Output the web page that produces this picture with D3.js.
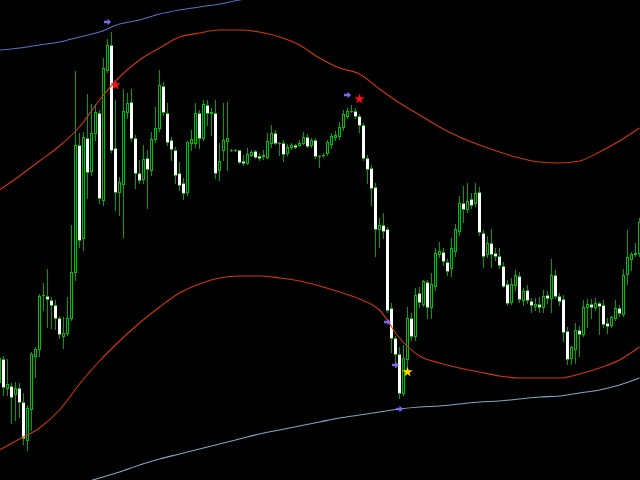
<!DOCTYPE html>
<html><head><meta charset="utf-8">
<script src="https://cdn.jsdelivr.net/npm/d3@7"></script>
<style>html,body{margin:0;padding:0;background:#000;overflow:hidden}svg{display:block}</style>
</head><body><svg id="chart" width="640" height="480"></svg>
<script>
// candle index of the first bar (bar index 0 sits at the left edge)
const firstBar = -1;
const open = [
1.098,1.121,1.092,1.094,1.086,1.092,1.078,1.040,1.071,1.124,1.131,
1.185,1.184,1.180,1.175,1.162,1.144,1.147,1.162,1.208,1.335,
1.242,1.342,1.309,1.347,1.367,1.280,1.410,1.435,1.332,1.288,
1.296,1.368,1.378,1.342,1.307,1.301,1.322,1.310,1.341,1.352,
1.394,1.367,1.340,1.330,1.307,1.297,1.288,1.337,1.337,1.367,
1.342,1.375,1.368,1.367,1.310,1.330,1.339,1.330,1.330,1.330,
1.319,1.317,1.325,1.329,1.324,1.324,1.323,1.337,1.347,1.337,
1.337,1.327,1.333,1.335,1.335,1.337,1.343,1.335,1.340,1.324,
1.325,1.327,1.336,1.343,1.344,1.353,1.364,1.369,1.369,1.364,
1.355,1.322,1.312,1.293,1.251,1.255,1.251,1.172,1.142,1.126,
1.087,1.121,1.162,1.144,1.187,1.176,1.198,1.173,1.194,1.226,
1.228,1.218,1.212,1.229,1.249,1.277,1.271,1.281,1.277,1.288,
1.247,1.226,1.237,1.227,1.224,1.214,1.196,1.178,1.195,1.204,
1.180,1.190,1.179,1.174,1.176,1.173,1.185,1.182,1.205,1.184,
1.181,1.149,1.122,1.131,1.150,1.146,1.173,1.176,1.173,1.177,
1.175,1.157,1.155,1.162,1.172,1.166,1.206,1.221,1.226,1.227];
const close = [
1.122,1.093,1.096,1.083,1.092,1.078,1.042,1.072,1.126,1.131,1.184,
1.185,1.181,1.175,1.162,1.146,1.147,1.162,1.208,1.335,1.240,
1.343,1.308,1.347,1.368,1.282,1.412,1.435,1.330,1.288,1.298,
1.369,1.377,1.342,1.307,1.300,1.321,1.311,1.341,1.352,1.395,
1.368,1.338,1.331,1.305,1.295,1.287,1.338,1.341,1.367,1.342,
1.376,1.367,1.367,1.307,1.319,1.340,1.342,1.330,1.330,1.318,
1.317,1.326,1.328,1.323,1.322,1.325,1.339,1.347,1.337,1.337,
1.326,1.333,1.335,1.333,1.337,1.343,1.334,1.340,1.324,1.324,
1.325,1.338,1.344,1.345,1.353,1.366,1.369,1.369,1.364,1.355,
1.322,1.311,1.292,1.251,1.255,1.249,1.170,1.142,1.126,1.087,
1.122,1.162,1.144,1.185,1.178,1.199,1.173,1.196,1.227,1.229,
1.219,1.209,1.232,1.251,1.277,1.271,1.279,1.275,1.287,1.248,
1.224,1.237,1.226,1.224,1.215,1.194,1.177,1.196,1.205,1.181,
1.189,1.180,1.175,1.176,1.173,1.184,1.182,1.205,1.184,1.179,
1.148,1.121,1.133,1.150,1.146,1.173,1.176,1.173,1.177,1.174,
1.156,1.154,1.163,1.172,1.167,1.205,1.223,1.226,1.227,1.258];
const high = [
1.128,1.124,1.121,1.097,1.098,1.097,1.087,1.075,1.128,1.133,1.186,
1.197,1.211,1.183,1.180,1.164,1.163,1.183,1.255,1.409,1.347,
1.348,1.386,1.376,1.376,1.370,1.422,1.441,1.448,1.380,1.303,
1.391,1.387,1.391,1.345,1.320,1.335,1.330,1.348,1.373,1.410,
1.398,1.377,1.343,1.333,1.318,1.302,1.339,1.350,1.377,1.370,
1.380,1.380,1.372,1.380,1.337,1.377,1.378,1.331,1.331,1.330,
1.325,1.332,1.330,1.330,1.327,1.330,1.347,1.355,1.350,1.338,
1.340,1.336,1.337,1.336,1.340,1.348,1.346,1.342,1.342,1.325,
1.327,1.340,1.347,1.349,1.358,1.370,1.372,1.375,1.372,1.366,
1.357,1.325,1.315,1.297,1.262,1.267,1.253,1.177,1.144,1.133,
1.135,1.173,1.167,1.192,1.193,1.200,1.200,1.207,1.232,1.238,
1.232,1.221,1.242,1.256,1.284,1.294,1.297,1.287,1.297,1.293,
1.250,1.244,1.251,1.232,1.232,1.218,1.200,1.202,1.210,1.208,
1.192,1.195,1.182,1.182,1.183,1.190,1.189,1.221,1.210,1.187,
1.185,1.153,1.134,1.157,1.154,1.180,1.181,1.181,1.182,1.178,
1.180,1.162,1.164,1.180,1.175,1.211,1.250,1.228,1.237,1.262];
const low = [
1.088,1.085,1.085,1.057,1.060,1.063,1.036,1.030,1.050,1.103,1.124,
1.170,1.153,1.152,1.151,1.142,1.132,1.145,1.160,1.200,1.233,
1.230,1.282,1.305,1.340,1.277,1.275,1.408,1.328,1.270,1.265,
1.243,1.362,1.339,1.292,1.297,1.297,1.272,1.305,1.338,1.349,
1.365,1.335,1.320,1.297,1.290,1.281,1.285,1.330,1.333,1.332,
1.340,1.355,1.345,1.302,1.300,1.320,1.310,1.329,1.329,1.317,
1.315,1.316,1.324,1.322,1.320,1.321,1.322,1.333,1.336,1.325,
1.319,1.325,1.331,1.332,1.334,1.336,1.333,1.333,1.322,1.313,
1.323,1.325,1.332,1.340,1.341,1.350,1.362,1.368,1.362,1.348,
1.320,1.297,1.275,1.224,1.233,1.242,1.168,1.128,1.113,1.082,
1.085,1.110,1.140,1.140,1.173,1.174,1.162,1.162,1.190,1.223,
1.215,1.205,1.204,1.224,1.245,1.258,1.268,1.272,1.274,1.245,
1.213,1.223,1.213,1.220,1.212,1.193,1.175,1.176,1.190,1.178,
1.175,1.177,1.168,1.170,1.168,1.168,1.177,1.168,1.182,1.175,
1.139,1.116,1.116,1.117,1.124,1.144,1.153,1.162,1.170,1.146,
1.153,1.147,1.153,1.160,1.164,1.164,1.196,1.210,1.224,1.224];

// envelope bands, sampled every 5 bars starting at the given bar index
const bandStep = 5;
const upperOuterStart = -1;
const upperOuter = [1.430,1.432,1.435,1.438,1.443,1.448,1.456,1.460,1.466,1.470,1.473,1.476,1.480,1.483,1.486];
const upperInnerStart = -1;
const upperInner = [1.290,1.304,1.319,1.334,1.353,1.380,1.403,1.420,1.432,1.443,1.447,1.450,1.450,1.448,1.443,1.435,1.422,1.412,1.406,1.391,1.377,1.365,1.353,1.343,1.335,1.328,1.322,1.318,1.317,1.319,1.328,1.339,1.352];
const lowerInnerStart = -1;
const lowerInner = [1.030,1.041,1.052,1.070,1.096,1.119,1.139,1.157,1.173,1.187,1.196,1.202,1.204,1.204,1.202,1.199,1.194,1.188,1.181,1.170,1.142,1.124,1.117,1.112,1.108,1.104,1.102,1.102,1.102,1.106,1.112,1.120,1.133];
const lowerOuterStart = 9;
const lowerOuter = [0.984,0.990,0.996,1.002,1.008,1.015,1.021,1.026,1.031,1.036,1.041,1.046,1.050,1.054,1.058,1.062,1.065,1.068,1.071,1.073,1.074,1.076,1.078,1.079,1.081,1.083,1.084,1.087,1.090,1.095,1.102];

// signal markers
const arrowBar = [26, 86, 96, 98, 99];
const arrowPrice = [1.458, 1.385, 1.158, 1.115, 1.071];
const starBar = [28, 89, 101];
const starPrice = [1.395, 1.381, 1.108];
const starKind = ["sell", "sell", "buy"];

const W = 640, H = 480;
const svg = d3.select("#chart");
svg.append("rect").attr("width", W).attr("height", H).attr("fill", "#000");

const x = d3.scaleLinear().domain([0, 159]).range([3.5, 639.5]);
const y = d3.scaleLinear().domain([1.000, 1.480]).range([480, 0]);
const py = v => Math.round(y(v));

const bars = open.map((o, i) => ({i: i + firstBar, o, c: close[i], h: high[i], l: low[i]}));

const WICK = "#00a000", EDGE = "#00c000";

// band lines
const bandLine = d3.line().x(d => x(d[0])).y(d => y(d[1])).curve(d3.curveMonotoneX);
function band(start, vals, color) {
  const pts = vals.map((v, j) => [start + j * bandStep, v]);
  svg.append("path").attr("d", bandLine(pts)).attr("fill", "none")
    .attr("stroke", color).attr("stroke-width", 1.1);
}

const g = svg.append("g").attr("shape-rendering", "crispEdges");
bars.forEach(b => {
  const cx = x(b.i);
  g.append("line").attr("x1", cx).attr("x2", cx)
    .attr("y1", py(b.h)).attr("y2", py(b.l) + 1)
    .attr("stroke", WICK).attr("stroke-width", 1);
  const top = Math.min(py(b.o), py(b.c)), bot = Math.max(py(b.o), py(b.c));
  if (bot - top < 1) {
    g.append("rect").attr("x", cx - 1.5).attr("y", top).attr("width", 3).attr("height", 1).attr("fill", EDGE);
  } else if (b.c > b.o) {
    g.append("rect").attr("x", cx - 1).attr("y", top + 0.5).attr("width", 2).attr("height", bot - top)
      .attr("fill", "#000").attr("stroke", EDGE).attr("stroke-width", 1);
  } else {
    g.append("rect").attr("x", cx - 1.5).attr("y", top).attr("width", 3).attr("height", bot - top + 1).attr("fill", "#fff");
    g.append("rect").attr("x", cx - 1.5).attr("y", top).attr("width", 3).attr("height", 1).attr("fill", EDGE);
    g.append("rect").attr("x", cx - 1.5).attr("y", bot).attr("width", 3).attr("height", 1).attr("fill", EDGE);
  }
});

band(upperOuterStart, upperOuter, "#4f74c8");
band(upperInnerStart, upperInner, "#d2380c");
band(lowerInnerStart, lowerInner, "#d2380c");
band(lowerOuterStart, lowerOuter, "#78aac8");

// arrows
const arrowPath = "M-3.5,-1.2H0V-3.2L3.5,0L0,3.2V1.2H-3.5Z";
arrowBar.forEach((bi, j) => {
  svg.append("path").attr("d", arrowPath)
    .attr("transform", `translate(${x(bi)},${y(arrowPrice[j])})`)
    .attr("fill", "#7b68ee");
});
// stars
const star = d3.symbol().type(d3.symbolStar).size(34);
starBar.forEach((bi, j) => {
  svg.append("path").attr("d", star())
    .attr("transform", `translate(${x(bi)},${y(starPrice[j])})`)
    .attr("fill", starKind[j] === "sell" ? "#ff1010" : "#ffd700");
});
</script></body></html>
